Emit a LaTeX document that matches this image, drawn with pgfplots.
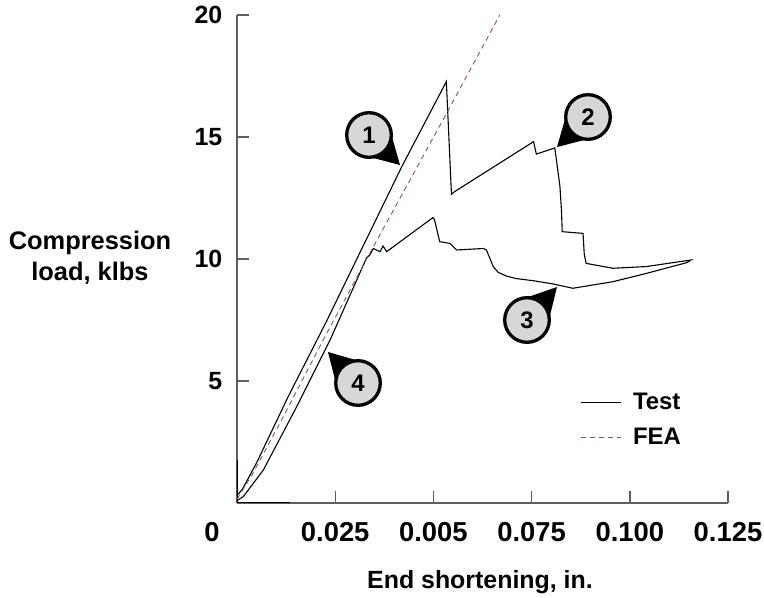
\documentclass[border=0pt]{standalone}
\usepackage{pgfplots}
\pgfplotsset{compat=1.18}
\usepackage{fontspec}
\setmainfont{Liberation Sans}

\definecolor{feapurple}{RGB}{150,70,130}
\definecolor{axisgray}{RGB}{95,95,95}
\definecolor{calloutgray}{RGB}{215,215,215}

% callout: centre x, centre y, tip x, tip y, direction angle, label (all in bp)
\newcommand{\callout}[6]{%
  \fill[black] (#3bp,#4bp) -- ([shift={(#5+47:22bp)}]#1bp,#2bp) -- (#1bp,#2bp)
    -- ([shift={(#5-47:22bp)}]#1bp,#2bp) -- cycle;
  \draw[line width=3.3bp, fill=calloutgray] (#1bp,#2bp) circle[radius=22.3bp];
  \node[font=\bfseries\fontsize{24}{26}\selectfont] at (#1bp,#2bp) {#6};
}

\begin{document}
\begin{tikzpicture}
\path[use as bounding box] (-237bp,-95bp) rectangle (527bp,503bp);
\begin{axis}[
  scale only axis, width=491bp, height=488bp,
  xmin=0, xmax=0.125, ymin=0, ymax=20,
  axis x line=bottom, axis y line=left,
  axis line style={-, axisgray, line width=1.4bp},
  xtick={0.025,0.05,0.075,0.1,0.125},
  xticklabels={0.025,0.005,0.075,0.100,0.125},
  ytick={5,10,15,20},
  tick align=inside, major tick length=12bp,
  tick style={axisgray, line width=1.4bp},
  /pgf/number format/assume math mode=true,
  ticklabel style={inner sep=0pt},
  x tick label style={font=\bfseries\fontsize{27.5}{30}\selectfont, yshift=-19bp},
  y tick label style={font=\bfseries\fontsize{25}{28}\selectfont, xshift=-14.5bp},
  legend style={draw=none, fill=none, at={(0.692,0.233)}, anchor=north west,
    font=\bfseries\fontsize{24}{26}\selectfont, row sep=13bp},
  legend cell align=left,
  legend image code/.code={\draw[#1] (0bp,0bp) -- (40bp,0bp); \path (50bp,0bp);},
]
\addplot[black, line width=1.3bp, forget plot] coordinates {(0,1.75) (0,0) (0.0135,0)};
\addplot[black, line width=1.1bp] coordinates {
  (0.0003,0.35) (0.0015,0.6) (0.005,1.65) (0.013,4.35) (0.0228,7.45) (0.0305,10.0)
  (0.042,13.8) (0.0533,17.27) (0.0546,12.65) (0.0553,12.75) (0.0755,14.81)
  (0.0762,14.3) (0.0809,14.55) (0.0812,14.2) (0.0822,13.0) (0.0826,12.0)
  (0.0828,11.12) (0.0881,11.05) (0.0884,10.2) (0.0889,9.82) (0.0957,9.62)
  (0.1042,9.69) (0.1156,9.96) (0.1145,9.85) (0.1042,9.41) (0.0957,9.07)
  (0.0855,8.80) (0.0804,8.98) (0.0754,9.11) (0.0710,9.2) (0.0686,9.3)
  (0.0665,9.45) (0.0652,9.7) (0.0635,10.37) (0.0627,10.43) (0.0559,10.37)
  (0.0542,10.64) (0.0516,10.71) (0.0503,11.6) (0.0499,11.7) (0.0381,10.30)
  (0.0372,10.53) (0.0364,10.3) (0.0347,10.43) (0.0338,10.16) (0.033,10.05)
  (0.0237,6.68) (0.0152,3.95) (0.0067,1.35) (0.0016,0.26) (0,0.1)
};
\addlegendentry{Test}
\addplot[feapurple, line width=0.9bp, dash pattern=on 5bp off 4bp] coordinates {
  (0,0.15) (0.004,1.2) (0.012,3.6) (0.022,6.7) (0.033,10.0) (0.0538,16.1) (0.0669,20.0)
};
\addlegendentry{FEA}
\end{axis}
\node[font=\bfseries\fontsize{27.5}{30}\selectfont] at (-25bp,-29bp) {0};
\node[font=\bfseries\fontsize{25.5}{31}\selectfont, align=center] at (-147bp,245bp) {Compression\\load, klbs};
\node[font=\bfseries\fontsize{25}{28}\selectfont] at (243bp,-79bp) {End shortening, in.};
\callout{132}{368}{163}{338}{-42}{1}
\callout{351}{386}{320}{356}{-136}{2}
\callout{290}{183}{320}{216}{48}{3}
\callout{121}{120}{91}{151}{134}{4}
\end{tikzpicture}
\end{document}
